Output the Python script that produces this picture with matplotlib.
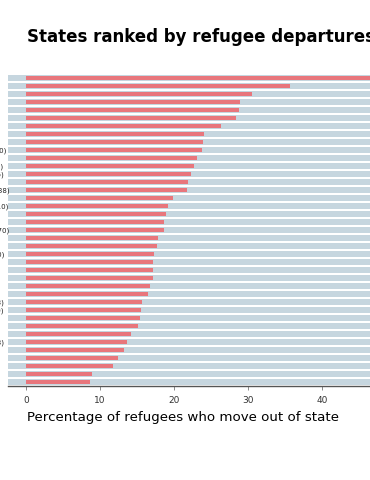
import matplotlib
matplotlib.use("Agg")
import matplotlib.pyplot as plt
import numpy as np

# states ranked by share of refugees who later move out of state (top = highest)
states = [
    "Alaska (45)", "Nevada (520)", "Vermont (320)", "Hawaii (18)", "Maine (410)",
    "Montana (40)", "Delaware (22)", "District of Columbia", "Oregon (960)",
    "New Hampshire (430)", "Iowa (1,290)", "Rhode Island (1,310)",
    "West Virginia (1,085)", "Utah (1,150)", "Massachusetts (1,938)",
    "Connecticut (1,070)", "North Carolina (4,210)", "Kansas (810)", "Idaho (1,070)",
    "South Carolina (2,370)", "Indiana (990)", "Kentucky (1,620)",
    "North Dakota (1,020)", "Ohio (2,410)", "Missouri (1,200)", "Virginia (1,530)",
    "Colorado (1,300)", "Illinois (2,310)", "Pennsylvania (2,993)",
    "Washington (12,770)", "New Mexico (1,240)", "Maryland (1,630)", "Georgia (2,600)",
    "New York State (903)", "Arizona (2,800)", "Texas (7,100)",
    "California (126,100)", "Michigan (3,800)", "Tennessee (12,240)",
]
pct_out = [
    48.0, 35.7, 30.5, 28.9, 28.8, 28.4, 26.3, 24.0, 23.9, 23.8,
    23.1, 22.7, 22.3, 21.9, 21.8, 19.8, 19.2, 18.9, 18.6, 18.6,
    17.8, 17.7, 17.3, 17.2, 17.2, 17.1, 16.8, 16.5, 15.7, 15.5,
    15.4, 15.2, 14.2, 13.7, 13.2, 12.5, 11.7, 8.9, 8.6,
]
xticks = [0, 10, 20, 30, 40]

W, H = 370, 480
fig = plt.figure(figsize=(W / 100, H / 100), dpi=100)
# axes run past the right edge of the canvas, like the cropped original
ax = fig.add_axes([8 / W, 94 / H, 388 / W, 312 / H])

xmin, xmax = -2.43, 50
rows = np.arange(len(states))

ax.barh(rows, xmax - xmin, left=xmin, height=0.8, color="#c6d6df", zorder=1)
ax.barh(rows, pct_out, height=0.42, color="#e8767c", zorder=2)

ax.set_xlim(xmin, xmax)
ax.set_ylim(len(states) - 0.5, -0.5)

for s in ["top", "right", "left"]:
    ax.spines[s].set_visible(False)
ax.spines["bottom"].set_color("#555555")
ax.spines["bottom"].set_linewidth(1)

ax.set_xticks(xticks)
ax.set_xticklabels([str(t) for t in xticks])
ax.tick_params(axis="x", length=3, width=0.6, color="#777777", labelsize=6.5,
               labelcolor="#333333", pad=4)

# state labels start off-canvas; only the long ones peek in at the left edge
ax.set_yticks(rows)
ax.set_yticklabels(states)
ax.tick_params(axis="y", length=0, labelsize=5, pad=56, labelcolor="#222222")
for lab in ax.get_yticklabels():
    lab.set_horizontalalignment("left")

fig.text(27 / W, 1 - 37 / H, "States ranked by refugee departures",
         fontsize=12, fontweight="bold", va="center", ha="left")
fig.text(27 / W, 1 - 418 / H, "Percentage of refugees who move out of state",
         fontsize=9.6, va="center", ha="left")

fig.savefig("out.png", dpi=100)
